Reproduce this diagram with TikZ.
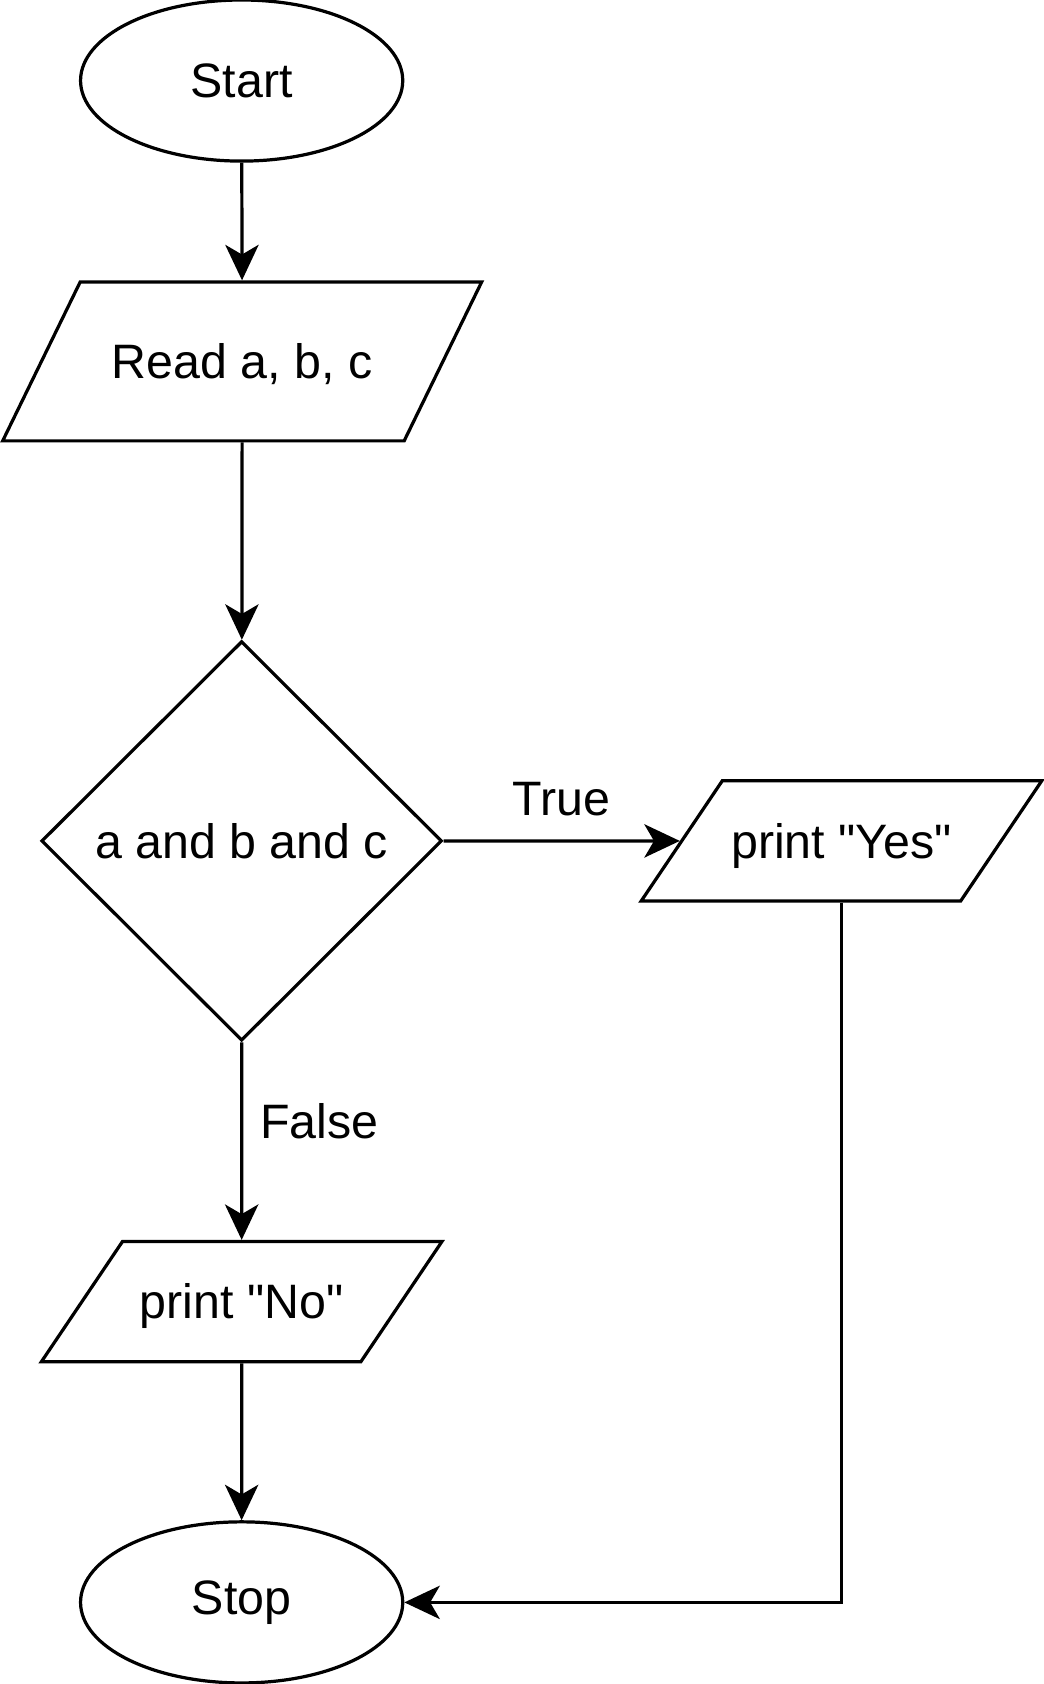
\documentclass[tikz,border=0pt]{standalone}
\usepackage{fontspec}
\setmainfont{Liberation Sans}
\usetikzlibrary{arrows.meta,shapes.geometric,positioning}
\tikzset{
    startstop/.style={ellipse, draw, line width=3pt, minimum width=300pt, minimum height=150pt, inner sep=0pt},
    readbox/.style={trapezium, draw, line width=3pt, trapezium left angle=64, trapezium right angle=116,
        trapezium stretches body, minimum width=446pt, minimum height=148pt,
        text height=32pt, text depth=0pt, inner xsep=0pt, inner ysep=58pt},
    printbox/.style={trapezium, draw, line width=3pt, trapezium left angle=56, trapezium right angle=124,
        trapezium stretches body, minimum width=373pt, minimum height=112pt,
        text height=32pt, text depth=0pt, inner xsep=0pt, inner ysep=40pt},
    decision/.style={diamond, draw, line width=3pt, minimum width=373pt, minimum height=372pt, inner sep=0pt},
    flow/.style={-{Stealth[length=33pt, width=31pt, inset=9pt]}, line width=3pt},
    lbl/.style={inner sep=0pt}
}

\begin{document}
\begin{tikzpicture}[x=1pt, y=-1pt, every node/.style={font=\fontsize{45}{54}\selectfont}]
    \useasboundingbox (0,0) rectangle (972,1568);

    % shapes of the chart
    \node[startstop] (start) at (225,75) {Start};
    \node[readbox] (read) at (225.5,336.5) {Read a, b, c};
    \node[decision] (test) at (225,783) {a and b and c};
    \node[printbox] (yes) at (783.5,783) {print \textquotedbl Yes\textquotedbl};
    \node[printbox] (no) at (225,1212) {print \textquotedbl No\textquotedbl};
    \node[startstop] (stop) at (225,1492) {Stop};

    % connect shapes
    \draw[flow] (start) -- (read);
    \draw[flow] (read) -- (test);
    \draw[flow] (test.east) -- node[lbl, above=22pt] (truelbl) {True} (yes.west);
    \draw[flow] (test.south) -- node[lbl, pos=0.4, right=16pt] (falselbl) {False} (no.north);
    \draw[flow] (no) -- (stop);
    \draw[flow] (yes.south) |- (stop.east);
\end{tikzpicture}
\end{document}
